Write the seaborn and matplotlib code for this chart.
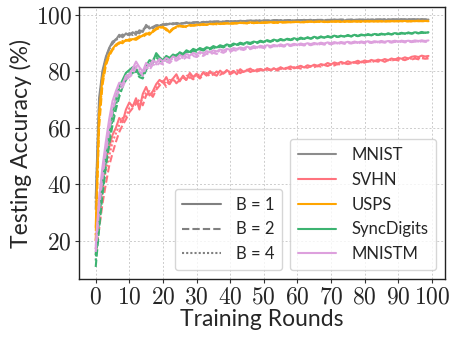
import numpy as np
import pandas as pd
import seaborn as sns
import matplotlib
matplotlib.use("Agg")
import matplotlib.pyplot as plt
from matplotlib.lines import Line2D
from matplotlib.ticker import FuncFormatter

rounds = list(range(100))
datasets = ["MNIST", "SVHN", "USPS", "SyncDigits", "MNISTM"]
batches = [1, 2, 4]
colors = {"MNIST": "#8c8c8c", "SVHN": "#ff737e", "USPS": "#ffa500",
          "SyncDigits": "#3cb371", "MNISTM": "#dda0dd"}

mnist_b1 = [35.0, 70.5, 80.2, 85.1, 88.3, 90.6, 91.2, 93.0, 92.1, 93.5,
            92.8, 93.9, 93.2, 94.6, 94.0, 96.5, 95.2, 95.8, 96.4, 96.1,
            96.8, 96.5, 97.0, 96.7, 97.2, 96.9, 97.1, 97.4, 97.0, 97.3,
            97.5, 97.2, 97.6, 97.4, 97.7, 97.5, 97.8, 97.6, 97.5, 97.9,
            97.7, 97.8, 97.6, 98.0, 97.8, 97.9, 98.1, 97.8, 98.0, 97.9,
            98.1, 98.0, 97.9, 98.2, 98.0, 98.1, 98.0, 98.2, 98.1, 98.0,
            98.2, 98.1, 98.3, 98.0, 98.2, 98.1, 98.3, 98.2, 98.1, 98.3,
            98.2, 98.4, 98.2, 98.3, 98.1, 98.3, 98.4, 98.2, 98.3, 98.4,
            98.3, 98.2, 98.4, 98.3, 98.5, 98.3, 98.4, 98.2, 98.4, 98.5,
            98.4, 98.3, 98.5, 98.4, 98.3, 98.5, 98.4, 98.5, 98.3, 98.4]
mnist_b2 = [31.0, 66.0, 78.5, 84.0, 87.9, 89.8, 91.5, 92.2, 93.1, 92.4,
            93.6, 92.9, 94.1, 93.5, 94.8, 95.7, 95.9, 95.3, 96.2, 96.6,
            96.3, 96.9, 96.6, 97.1, 96.8, 97.2, 97.0, 97.3, 97.1, 97.4,
            97.3, 97.5, 97.3, 97.6, 97.4, 97.7, 97.5, 97.8, 97.6, 97.7,
            97.9, 97.6, 97.8, 97.9, 97.7, 98.0, 97.8, 98.0, 97.9, 98.1,
            97.9, 98.1, 98.0, 98.1, 98.2, 97.9, 98.1, 98.0, 98.2, 98.1,
            98.0, 98.2, 98.1, 98.2, 98.3, 98.1, 98.2, 98.3, 98.2, 98.1,
            98.3, 98.2, 98.3, 98.4, 98.2, 98.3, 98.2, 98.4, 98.3, 98.2,
            98.4, 98.3, 98.3, 98.4, 98.2, 98.4, 98.3, 98.5, 98.3, 98.4,
            98.3, 98.5, 98.4, 98.3, 98.5, 98.4, 98.3, 98.4, 98.5, 98.3]
mnist_b4 = [33.5, 68.0, 79.5, 84.8, 88.0, 90.2, 90.9, 92.6, 92.8, 93.0,
            93.3, 93.5, 93.0, 94.2, 94.5, 95.9, 95.6, 95.5, 96.0, 96.4,
            96.5, 96.7, 96.8, 96.9, 97.0, 97.1, 96.9, 97.2, 97.3, 97.2,
            97.4, 97.3, 97.5, 97.5, 97.6, 97.6, 97.7, 97.5, 97.7, 97.8,
            97.8, 97.7, 97.9, 97.8, 97.9, 97.8, 98.0, 97.9, 98.1, 98.0,
            98.0, 97.9, 98.1, 98.0, 98.1, 98.2, 98.0, 98.1, 98.2, 98.0,
            98.1, 98.2, 98.2, 98.1, 98.3, 98.2, 98.1, 98.2, 98.3, 98.2,
            98.3, 98.3, 98.2, 98.3, 98.4, 98.2, 98.3, 98.3, 98.4, 98.3,
            98.3, 98.4, 98.2, 98.4, 98.3, 98.4, 98.5, 98.3, 98.4, 98.4,
            98.4, 98.4, 98.3, 98.5, 98.4, 98.4, 98.5, 98.4, 98.4, 98.5]

usps_b1 = [24.5, 65.0, 77.5, 83.0, 86.2, 88.0, 89.5, 90.3, 90.0, 91.2,
           90.8, 91.5, 91.2, 92.0, 92.8, 93.5, 93.0, 94.2, 95.3, 95.8,
           95.5, 95.2, 93.8, 95.0, 95.9, 96.3, 95.8, 96.0, 96.5, 96.2,
           96.6, 96.4, 96.8, 96.5, 96.9, 96.7, 97.0, 96.8, 97.0, 97.1,
           96.9, 97.2, 97.0, 97.3, 97.1, 97.2, 97.4, 97.1, 97.3, 97.2,
           97.4, 97.3, 97.5, 97.2, 97.4, 97.5, 97.3, 97.6, 97.4, 97.5,
           97.6, 97.4, 97.6, 97.5, 97.7, 97.5, 97.6, 97.7, 97.5, 97.6,
           97.7, 97.6, 97.8, 97.6, 97.7, 97.8, 97.6, 97.8, 97.7, 97.8,
           97.7, 97.9, 97.8, 97.7, 97.9, 97.8, 97.7, 97.9, 97.8, 97.8,
           97.9, 97.8, 97.9, 97.7, 97.9, 97.8, 98.0, 97.8, 97.9, 97.8]
usps_b2 = [20.0, 60.0, 75.0, 82.0, 85.5, 87.6, 89.0, 90.1, 90.6, 90.9,
           91.4, 91.0, 91.8, 92.5, 92.2, 93.1, 93.8, 94.0, 94.9, 95.4,
           95.9, 94.6, 94.2, 95.3, 95.5, 95.9, 96.1, 95.7, 96.2, 96.4,
           96.3, 96.7, 96.5, 96.6, 96.8, 96.9, 96.7, 97.0, 96.9, 97.0,
           97.1, 96.9, 97.2, 97.1, 97.3, 97.0, 97.2, 97.3, 97.2, 97.4,
           97.2, 97.4, 97.3, 97.5, 97.3, 97.4, 97.5, 97.4, 97.5, 97.6,
           97.5, 97.6, 97.4, 97.7, 97.6, 97.5, 97.7, 97.6, 97.7, 97.5,
           97.6, 97.8, 97.7, 97.7, 97.6, 97.8, 97.7, 97.7, 97.8, 97.6,
           97.8, 97.7, 97.8, 97.9, 97.7, 97.8, 97.9, 97.7, 97.9, 97.8,
           97.8, 97.9, 97.8, 97.9, 97.8, 97.9, 97.8, 97.9, 98.0, 97.9]
usps_b4 = [22.0, 62.5, 76.0, 82.5, 85.8, 87.8, 89.2, 89.9, 90.8, 91.0,
           91.1, 91.7, 91.5, 92.2, 92.6, 93.3, 93.5, 94.5, 95.0, 95.6,
           95.6, 95.0, 94.0, 95.2, 95.7, 96.1, 95.9, 96.1, 96.3, 96.3,
           96.5, 96.5, 96.7, 96.6, 96.8, 96.8, 96.9, 96.9, 97.0, 97.1,
           97.0, 97.1, 97.1, 97.2, 97.2, 97.1, 97.3, 97.2, 97.3, 97.3,
           97.3, 97.4, 97.4, 97.4, 97.3, 97.5, 97.4, 97.5, 97.5, 97.5,
           97.6, 97.5, 97.5, 97.6, 97.6, 97.6, 97.7, 97.6, 97.6, 97.6,
           97.7, 97.7, 97.7, 97.6, 97.7, 97.7, 97.7, 97.8, 97.7, 97.7,
           97.8, 97.8, 97.7, 97.8, 97.8, 97.8, 97.8, 97.8, 97.8, 97.8,
           97.8, 97.8, 97.9, 97.8, 97.8, 97.9, 97.9, 97.8, 97.9, 97.9]

svhn_b1 = [20.0, 32.0, 42.0, 48.5, 53.0, 57.5, 60.0, 63.5, 62.0, 66.5,
           69.0, 67.5, 70.5, 66.5, 72.0, 74.5, 71.5, 73.0, 75.5, 77.0,
           76.0, 78.0, 75.5, 77.5, 79.0, 76.5, 78.5, 77.0, 79.5, 78.0,
           79.2, 77.8, 79.8, 78.5, 80.1, 79.0, 78.5, 80.3, 79.2, 80.5,
           79.5, 80.2, 79.0, 80.8, 79.8, 80.5, 81.0, 80.1, 80.6, 80.9,
           80.4, 81.2, 80.5, 81.0, 80.7, 81.5, 80.9, 81.3, 81.8, 81.1,
           81.6, 82.0, 81.4, 82.2, 81.8, 82.4, 82.0, 82.6, 82.3, 83.0,
           82.5, 83.2, 82.8, 83.4, 82.9, 83.6, 83.1, 83.3, 83.8, 83.2,
           83.9, 83.5, 84.1, 83.7, 84.2, 83.9, 84.4, 84.0, 84.6, 84.2,
           84.8, 84.5, 85.0, 84.6, 85.2, 85.4, 85.1, 85.6, 85.3, 85.5]
svhn_b2 = [15.0, 24.0, 33.0, 40.0, 46.5, 51.0, 55.0, 58.5, 61.0, 63.0,
           65.5, 67.0, 68.5, 70.0, 68.0, 71.5, 72.5, 71.0, 73.5, 75.0,
           76.5, 74.5, 76.0, 77.5, 75.8, 77.0, 78.2, 76.8, 78.0, 77.2,
           78.5, 77.5, 78.8, 79.5, 78.2, 79.0, 80.0, 78.8, 79.5, 79.9,
           79.0, 79.7, 80.3, 79.4, 80.1, 80.6, 79.8, 80.3, 80.0, 80.5,
           80.2, 80.7, 80.4, 80.9, 80.3, 81.0, 80.6, 81.2, 80.8, 81.1,
           81.4, 81.0, 81.6, 81.3, 81.9, 81.5, 82.0, 81.7, 82.3, 81.9,
           82.5, 82.1, 82.7, 82.4, 83.0, 82.6, 82.9, 83.2, 82.8, 83.4,
           83.1, 83.6, 83.2, 83.7, 83.5, 83.9, 83.4, 84.0, 83.8, 84.2,
           83.9, 84.3, 84.0, 84.5, 84.2, 84.6, 84.3, 84.7, 84.5, 84.6]
svhn_b4 = [17.0, 28.0, 38.0, 45.0, 50.0, 55.0, 58.0, 61.0, 63.5, 64.0,
           67.0, 68.0, 69.0, 68.5, 70.5, 72.5, 73.0, 72.0, 74.0, 76.0,
           76.8, 75.5, 77.0, 76.5, 77.5, 77.8, 77.0, 78.4, 78.8, 78.0,
           78.6, 78.9, 79.2, 78.7, 79.5, 79.3, 79.6, 79.9, 79.4, 80.2,
           79.8, 80.0, 80.4, 80.1, 80.3, 80.0, 80.6, 80.4, 80.7, 80.5,
           80.9, 80.6, 80.8, 81.1, 80.9, 81.2, 81.0, 81.4, 81.2, 81.5,
           81.3, 81.7, 81.5, 81.9, 81.7, 82.1, 81.8, 82.2, 82.1, 82.5,
           82.3, 82.7, 82.5, 82.9, 82.6, 83.0, 82.8, 83.3, 83.1, 83.5,
           83.3, 83.7, 83.5, 83.8, 83.6, 84.0, 83.8, 84.2, 84.0, 84.3,
           84.2, 84.5, 84.3, 84.7, 84.5, 84.8, 84.6, 84.9, 84.7, 85.0]

sync_b1 = [15.0, 30.0, 41.0, 50.0, 58.0, 65.0, 70.0, 74.5, 77.0, 79.5,
           80.5, 81.5, 81.0, 79.0, 78.5, 82.0, 84.0, 83.5, 86.5, 85.0,
           84.0, 85.5, 84.8, 86.0, 85.5, 86.8, 86.2, 87.5, 86.9, 88.0,
           87.5, 88.3, 87.8, 88.6, 88.2, 89.0, 88.5, 89.3, 88.9, 89.6,
           89.2, 89.9, 89.5, 90.2, 89.8, 90.4, 90.1, 90.6, 90.3, 90.9,
           90.5, 91.1, 90.7, 91.3, 90.9, 91.5, 91.1, 91.6, 91.3, 91.8,
           91.4, 92.0, 91.6, 92.1, 91.7, 92.3, 91.9, 92.4, 92.0, 92.5,
           92.2, 92.7, 92.3, 92.6, 92.4, 92.9, 92.5, 93.0, 92.6, 93.1,
           92.8, 93.2, 92.9, 93.3, 93.0, 93.4, 93.1, 93.5, 93.2, 93.6,
           93.3, 93.7, 93.4, 93.8, 93.5, 93.9, 93.6, 94.0, 93.7, 93.9]
sync_b2 = [10.7, 24.0, 36.0, 46.0, 54.0, 61.0, 66.5, 71.0, 74.5, 77.0,
           78.5, 79.5, 80.0, 78.0, 77.5, 80.5, 82.5, 83.0, 85.0, 84.0,
           83.2, 84.5, 84.0, 85.2, 85.8, 86.0, 85.6, 86.8, 86.4, 87.3,
           87.0, 87.8, 87.4, 88.1, 87.8, 88.5, 88.2, 88.8, 88.5, 89.2,
           88.8, 89.5, 89.2, 89.8, 89.5, 90.0, 89.7, 90.3, 90.0, 90.6,
           90.3, 90.8, 90.5, 91.0, 90.7, 91.2, 90.9, 91.4, 91.1, 91.5,
           91.2, 91.7, 91.4, 91.9, 91.6, 92.0, 91.7, 92.2, 91.9, 92.3,
           92.0, 92.5, 92.2, 92.6, 92.3, 92.7, 92.4, 92.8, 92.5, 92.9,
           92.7, 93.0, 92.8, 93.1, 92.9, 93.2, 93.0, 93.3, 93.1, 93.4,
           93.2, 93.5, 93.3, 93.6, 93.4, 93.7, 93.5, 93.7, 93.6, 93.8]
sync_b4 = [13.0, 27.0, 38.5, 48.0, 56.0, 63.0, 68.0, 72.5, 76.0, 78.0,
           79.5, 80.5, 80.8, 78.5, 79.0, 81.0, 83.0, 84.0, 85.5, 84.5,
           83.8, 85.0, 84.5, 85.6, 85.9, 86.3, 86.0, 87.1, 86.7, 87.6,
           87.3, 88.0, 87.7, 88.3, 88.0, 88.7, 88.4, 89.0, 88.7, 89.4,
           89.0, 89.7, 89.4, 90.0, 89.7, 90.2, 89.9, 90.4, 90.2, 90.7,
           90.4, 90.9, 90.6, 91.1, 90.8, 91.3, 91.0, 91.5, 91.2, 91.6,
           91.3, 91.8, 91.5, 92.0, 91.7, 92.1, 91.8, 92.3, 92.0, 92.4,
           92.1, 92.6, 92.3, 92.7, 92.4, 92.8, 92.5, 92.9, 92.6, 93.0,
           92.8, 93.1, 92.9, 93.2, 93.0, 93.3, 93.1, 93.4, 93.2, 93.5,
           93.3, 93.6, 93.4, 93.7, 93.5, 93.8, 93.6, 93.8, 93.7, 93.9]

mnistm_b1 = [18.0, 35.0, 46.0, 55.0, 63.0, 69.5, 73.0, 76.0, 75.5, 78.5,
             79.0, 81.0, 83.5, 81.5, 80.0, 83.0, 82.0, 84.0, 83.0, 84.5,
             83.5, 84.8, 84.0, 85.3, 84.6, 85.8, 85.2, 86.2, 85.6, 86.6,
             86.0, 86.9, 86.4, 87.2, 86.8, 87.5, 87.1, 87.8, 87.4, 88.0,
             87.7, 88.3, 88.0, 88.5, 88.2, 88.8, 88.4, 89.0, 88.6, 89.1,
             88.8, 89.3, 89.0, 89.4, 89.1, 89.6, 89.2, 89.7, 89.4, 89.8,
             89.5, 89.9, 89.6, 90.0, 89.7, 90.1, 89.8, 90.2, 89.9, 90.3,
             90.0, 90.4, 90.1, 90.4, 90.2, 90.5, 90.2, 90.6, 90.3, 90.6,
             90.4, 90.7, 90.4, 90.7, 90.5, 90.8, 90.5, 90.8, 90.6, 90.9,
             90.6, 90.9, 90.7, 90.9, 90.7, 91.0, 90.8, 91.0, 90.8, 91.0]
mnistm_b2 = [16.0, 31.0, 42.0, 51.0, 59.0, 66.0, 70.5, 73.5, 74.5, 77.0,
             78.0, 79.0, 81.5, 80.0, 78.5, 81.5, 80.5, 82.5, 82.0, 83.0,
             82.5, 83.5, 83.0, 84.2, 83.8, 84.6, 84.2, 85.1, 84.7, 85.5,
             85.1, 85.9, 85.5, 86.3, 85.9, 86.6, 86.2, 87.0, 86.6, 87.3,
             86.9, 87.6, 87.3, 87.9, 87.6, 88.2, 87.9, 88.4, 88.1, 88.6,
             88.3, 88.8, 88.5, 89.0, 88.7, 89.1, 88.8, 89.3, 89.0, 89.4,
             89.1, 89.5, 89.2, 89.6, 89.3, 89.7, 89.4, 89.8, 89.5, 89.9,
             89.6, 90.0, 89.7, 90.1, 89.8, 90.1, 89.9, 90.2, 89.9, 90.3,
             90.0, 90.3, 90.1, 90.4, 90.1, 90.4, 90.2, 90.5, 90.2, 90.5,
             90.3, 90.6, 90.3, 90.6, 90.4, 90.6, 90.4, 90.7, 90.5, 90.7]
mnistm_b4 = [17.0, 33.0, 44.0, 53.0, 61.0, 67.5, 72.0, 75.0, 75.0, 78.0,
             78.5, 80.0, 82.5, 80.8, 79.2, 82.2, 81.3, 83.2, 82.5, 83.8,
             83.0, 84.2, 83.5, 84.8, 84.2, 85.2, 84.7, 85.7, 85.2, 86.0,
             85.6, 86.4, 86.0, 86.8, 86.4, 87.1, 86.7, 87.4, 87.0, 87.7,
             87.3, 88.0, 87.7, 88.2, 87.9, 88.5, 88.2, 88.7, 88.4, 88.9,
             88.6, 89.0, 88.8, 89.2, 88.9, 89.4, 89.0, 89.5, 89.2, 89.6,
             89.3, 89.7, 89.4, 89.8, 89.5, 89.9, 89.6, 90.0, 89.7, 90.1,
             89.8, 90.2, 89.9, 90.3, 90.0, 90.3, 90.1, 90.4, 90.1, 90.5,
             90.2, 90.5, 90.3, 90.6, 90.3, 90.6, 90.4, 90.7, 90.4, 90.7,
             90.5, 90.8, 90.5, 90.8, 90.6, 90.8, 90.6, 90.9, 90.6, 90.9]

series = {
    ("MNIST", 1): mnist_b1, ("MNIST", 2): mnist_b2, ("MNIST", 4): mnist_b4,
    ("SVHN", 1): svhn_b1, ("SVHN", 2): svhn_b2, ("SVHN", 4): svhn_b4,
    ("USPS", 1): usps_b1, ("USPS", 2): usps_b2, ("USPS", 4): usps_b4,
    ("SyncDigits", 1): sync_b1, ("SyncDigits", 2): sync_b2, ("SyncDigits", 4): sync_b4,
    ("MNISTM", 1): mnistm_b1, ("MNISTM", 2): mnistm_b2, ("MNISTM", 4): mnistm_b4,
}

rows = []
for ds in datasets:
    for b in batches:
        for r, v in zip(rounds, series[(ds, b)]):
            rows.append({"round": r, "acc": v, "dataset": ds, "B": b})
df = pd.DataFrame(rows)

sns.set_theme(style="whitegrid")
plt.rcParams["font.family"] = ["Lato", "DejaVu Sans"]
plt.rcParams["mathtext.fontset"] = "cm"

fig = plt.figure(figsize=(4.57, 3.44), dpi=100)
ax = fig.add_axes([0.173, 0.188, 0.801, 0.792])

dashes = {1: "", 2: (3.5, 1.5), 4: (1, 1)}
sns.lineplot(data=df, x="round", y="acc", hue="dataset", style="B",
             hue_order=datasets, palette=colors, dashes=dashes,
             linewidth=1.5, legend=False, ax=ax, estimator=None)

ax.set_xticks(list(range(0, 101, 10)))
ax.set_yticks([20, 40, 60, 80, 100])
fmt = FuncFormatter(lambda v, p: r"$%d$" % int(round(v)))
ax.xaxis.set_major_formatter(fmt)
ax.yaxis.set_major_formatter(fmt)
ax.tick_params(axis="both", labelsize=17, length=3, width=0.8,
               color="#333333", direction="out", pad=2,
               bottom=True, left=True)
ax.set_xlabel("Training Rounds", fontsize=16.5, labelpad=1)
ax.set_ylabel("Testing Accuracy (%)", fontsize=16.5, labelpad=3)
ax.grid(True, linestyle=(0, (2, 2)), color="#cccccc", linewidth=0.7)
for s in ax.spines.values():
    s.set_color("#222222")
    s.set_linewidth(1.0)

leg_kw = dict(loc="lower right", fontsize=12, handlelength=2.3,
              handletextpad=0.9, frameon=True, borderpad=0.47,
              labelspacing=0.53, borderaxespad=0.0)
h1 = [Line2D([0], [0], color="#808080", lw=1.5, linestyle="-"),
      Line2D([0], [0], color="#808080", lw=1.5, dashes=dashes[2]),
      Line2D([0], [0], color="#808080", lw=1.5, dashes=dashes[4])]
leg1 = ax.legend(h1, [f"B = {b}" for b in batches],
                 bbox_to_anchor=(0.5546, 0.034), **leg_kw)
ax.add_artist(leg1)
h2 = [Line2D([0], [0], color=colors[d], lw=1.5) for d in datasets]
ax.legend(h2, datasets, bbox_to_anchor=(0.9754, 0.034), **leg_kw)

fig.savefig("out.png", dpi=100)
